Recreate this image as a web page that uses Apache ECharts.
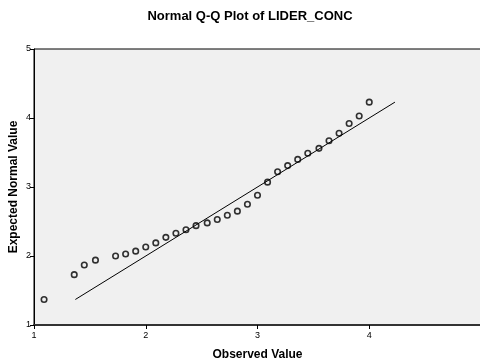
<!DOCTYPE html>
<html>
<head>
    <meta http-equiv="Content-Type" content="text/html; charset=utf-8" />
    <title>Normal Q-Q Plot of LIDER_CONC</title>
    <script src="https://cdn.jsdelivr.net/npm/echarts@6/dist/echarts.min.js"></script>
</head>
<body style="margin:0;padding:0;background:#ffffff;">
    <div id="main" style="width:480px;height:361px;"></div>
    <script type="text/javascript">
        /*************************************************************
        * data
        *************************************************************/
        var observed = [1.09, 1.36, 1.45, 1.55, 1.73, 1.82, 1.91, 2.00, 2.09, 2.18,
                        2.27, 2.36, 2.45, 2.55, 2.64, 2.73, 2.82, 2.91, 3.00, 3.09,
                        3.18, 3.27, 3.36, 3.45, 3.55, 3.64, 3.73, 3.82, 3.91, 4.00];
        var expected = [1.37, 1.73, 1.87, 1.94, 2.00, 2.03, 2.07, 2.13, 2.19, 2.27,
                        2.33, 2.38, 2.44, 2.48, 2.53, 2.59, 2.65, 2.75, 2.88, 3.07,
                        3.22, 3.31, 3.40, 3.49, 3.56, 3.67, 3.78, 3.92, 4.03, 4.23];
        var refLine = [1.37, 4.23];
        var xTickLabels = ['1', '2', '3', '4', ''];
        var yTickLabels = ['1', '2', '3', '4', '5'];

        var points = [];
        for (var i = 0; i < observed.length; i++) {
            points.push([observed[i], expected[i]]);
        }
        var linePts = [];
        for (var j = 0; j < refLine.length; j++) {
            linePts.push([refLine[j], refLine[j]]);
        }

        var chart = echarts.init(document.getElementById('main'));

        var option = {
            animation: false,
            backgroundColor: '#ffffff',
            title: {
                text: 'Normal Q-Q Plot of LIDER_CONC',
                left: 245,
                textAlign: 'center',
                top: 5,
                textStyle: {
                    color: '#000',
                    fontSize: 13,
                    fontWeight: 'bold',
                    fontFamily: 'Liberation Sans, Arial'
                }
            },
            grid: {
                left: 34,
                top: 49,
                width: 447,
                height: 276,
                outerBoundsMode: 'none',
                containLabel: false,
                show: true,
                backgroundColor: '#f0f0f0',
                borderColor: '#000',
                borderWidth: 1
            },
            xAxis: {
                type: 'value',
                min: 1,
                max: 5,
                interval: 1,
                name: 'Observed Value',
                nameLocation: 'middle',
                nameGap: 24,
                nameMoveOverlap: false,
                nameTextStyle: { color: '#000', fontSize: 12, fontWeight: 'bold', fontFamily: 'Liberation Sans, Arial' },
                splitLine: { show: false },
                axisLine: { lineStyle: { color: '#333', width: 2 } },
                axisTick: { show: true, length: 4, lineStyle: { color: '#000', width: 1 } },
                axisLabel: {
                    color: '#000', fontSize: 9, margin: 6, fontFamily: 'Liberation Sans, Arial',
                    formatter: function (v) { return xTickLabels[v - 1] || ''; }
                }
            },
            yAxis: {
                type: 'value',
                min: 1,
                max: 5,
                interval: 1,
                name: 'Expected Normal Value',
                nameLocation: 'middle',
                nameGap: 14,
                nameMoveOverlap: false,
                nameRotate: 90,
                nameTextStyle: { color: '#000', fontSize: 12, fontWeight: 'bold', fontFamily: 'Liberation Sans, Arial' },
                splitLine: { show: false },
                axisLine: { show: true, lineStyle: { color: '#000', width: 1 } },
                axisTick: { show: true, length: 4, lineStyle: { color: '#000', width: 1 } },
                axisLabel: {
                    color: '#000', fontSize: 9, margin: 3, fontFamily: 'Liberation Sans, Arial',
                    formatter: function (v) { return yTickLabels[v - 1] || ''; }
                }
            },
            series: [
                {
                    type: 'line',
                    data: linePts,
                    symbol: 'none',
                    lineStyle: { color: '#000', width: 1 },
                    z: 2
                },
                {
                    type: 'scatter',
                    data: points,
                    symbol: 'circle',
                    symbolSize: 5.5,
                    itemStyle: { color: 'rgba(0,0,0,0)', borderColor: '#000', borderWidth: 1.6 },
                    z: 3
                }
            ]
        };
        chart.setOption(option);
    </script>
</body>
</html>
